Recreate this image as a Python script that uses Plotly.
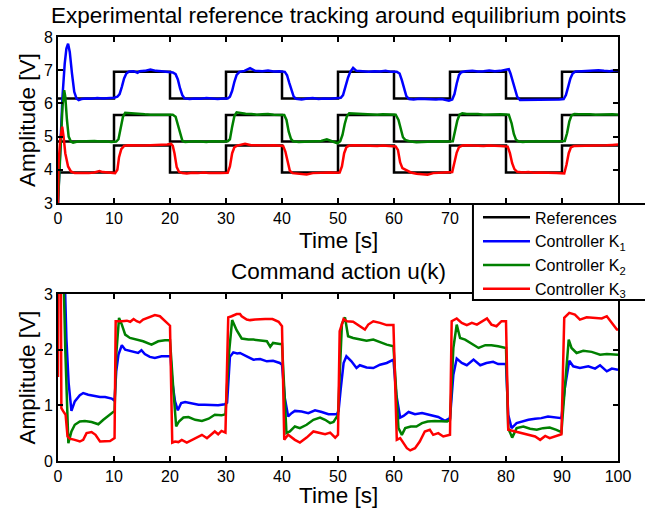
import plotly.graph_objects as go

# ---------------- reference set-points (step signals) ----------------
ref_t = [0, 10, 20, 30, 40, 50, 60, 70, 80, 90, 100]
ref_k1 = [6.15, 6.95, 6.15, 6.95, 6.15, 6.95, 6.15, 6.95, 6.15, 6.95, 6.95]
ref_k2 = [4.85, 5.65, 4.85, 5.65, 4.85, 5.65, 4.85, 5.65, 4.85, 5.65, 5.65]
ref_k3 = [3.92, 4.73, 3.92, 4.73, 3.92, 4.73, 3.92, 4.73, 3.92, 4.73, 4.73]

# ---------------- measured outputs (top panel) ----------------
y1_t = [0, 0.4, 0.8, 1.2, 1.5, 1.8, 2.1, 2.5, 2.9, 3.3, 3.7, 4.2, 5, 6, 7, 8, 9, 10,
        10.6, 11.0, 11.4, 11.8, 12.2, 12.7, 13.5, 14.2, 14.6, 15.5, 16.5, 17.5, 18.5, 19.5,
        20.5, 21.0, 21.4, 21.8, 22.2, 22.6, 23.5, 24.5, 25.5, 26.5, 27.5, 28.5, 29.5,
        30.3, 30.7, 31.1, 31.5, 31.9, 32.4, 33.3, 34.3, 35.2, 36.5, 37.5, 38.5, 39.5,
        40.5, 40.9, 41.3, 41.7, 42.1, 42.5, 43.5, 44.5, 45.5, 46.5, 47.5, 48.5, 49.5,
        50.5, 50.9, 51.3, 51.8, 52.2, 52.7, 53.3, 54.5, 55.5, 56.5, 57.5, 58.5, 59.5,
        60.5, 61.0, 61.4, 61.8, 62.2, 62.7, 63.5, 64.5, 65.5, 66.5, 67.5, 68.5, 69.2, 69.8,
        70.4, 70.8, 71.2, 71.6, 72.0, 72.8, 74, 75, 76, 77, 78, 79, 80.2, 80.5,
        80.8, 81.2, 81.6, 82.0, 82.5, 83.5, 84.5, 85.5, 86.5, 87.5, 88.5, 89.5,
        90.3, 90.7, 91.1, 91.5, 91.9, 92.4, 93.5, 94.5, 95.5, 96.5, 97.5, 98.5, 99.5, 100]
y1_v = [3.0, 4.8, 6.2, 7.2, 7.65, 7.8, 7.55, 6.9, 6.35, 6.15, 6.1, 6.13, 6.15, 6.14, 6.16, 6.15, 6.15, 6.17,
        6.2, 6.28, 6.5, 6.75, 6.9, 6.96, 6.97, 6.92, 6.97, 6.98, 7.02, 6.98, 6.97, 6.95,
        6.93, 6.88, 6.72, 6.45, 6.25, 6.15, 6.13, 6.15, 6.14, 6.16, 6.14, 6.13, 6.15,
        6.15, 6.2, 6.38, 6.65, 6.86, 6.95, 6.98, 7.06, 6.98, 6.97, 6.99, 6.96, 6.97,
        6.95, 6.85, 6.62, 6.38, 6.2, 6.14, 6.12, 6.15, 6.16, 6.13, 6.15, 6.14, 6.15,
        6.17, 6.25, 6.5, 6.78, 6.95, 7.07, 6.98, 6.97, 6.95, 6.97, 6.96, 6.98, 6.95,
        6.95, 6.9, 6.7, 6.45, 6.22, 6.13, 6.12, 6.14, 6.13, 6.14, 6.12, 6.13, 6.11, 6.08,
        6.12, 6.28, 6.6, 6.85, 6.94, 6.97, 6.98, 6.96, 6.97, 6.99, 6.97, 6.98, 7.02, 7.03,
        6.9, 6.65, 6.4, 6.2, 6.1, 6.1, 6.12, 6.11, 6.12, 6.11, 6.12, 6.12,
        6.13, 6.25, 6.5, 6.75, 6.9, 6.96, 6.97, 6.98, 6.97, 7.0, 6.98, 6.97, 7.0, 7.0]

y2_t = [0, 0.4, 0.8, 1.1, 1.3, 1.6, 1.9, 2.3, 2.7, 3.5, 4.5, 5.5, 6.5, 7.5, 8.5, 9.5,
        10.4, 10.8, 11.2, 11.6, 12.0, 12.5, 13.5, 14.5, 15.5, 16.5, 17.5, 18.5, 19.5,
        20.5, 21.0, 21.4, 21.8, 22.2, 22.7, 23.5, 24.5, 25.5, 26.5, 27.5, 28.5, 29.5,
        30.3, 30.7, 31.1, 31.5, 31.9, 32.5, 33.5, 34.5, 35.5, 36.5, 37.5, 38.5, 39.5,
        40.4, 40.8, 41.2, 41.6, 42.0, 43, 44, 45, 46, 47, 48, 48.7, 49.5, 49.9,
        50.4, 50.8, 51.2, 51.6, 52.0, 53, 54, 55, 56, 57, 58, 59,
        60.3, 60.8, 61.2, 61.6, 62.0, 63, 64, 65, 66, 67, 68, 69,
        70.5, 70.9, 71.3, 71.7, 72.2, 73, 74, 75, 76, 77, 78, 79,
        80.5, 81.0, 81.4, 81.8, 82.3, 83, 84, 85, 86, 87, 88, 89,
        90.5, 90.9, 91.3, 91.7, 92.2, 93, 94, 95, 96, 97, 98, 99, 100]
y2_v = [3.0, 4.6, 5.9, 6.4, 6.2, 5.5, 5.0, 4.85, 4.82, 4.85, 4.86, 4.85, 4.87, 4.85, 4.86, 4.84,
        4.85, 4.92, 5.3, 5.6, 5.72, 5.71, 5.69, 5.68, 5.67, 5.66, 5.67, 5.66, 5.66,
        5.66, 5.6, 5.35, 5.05, 4.88, 4.84, 4.85, 4.86, 4.85, 4.84, 4.86, 4.85, 4.85,
        4.86, 4.92, 5.3, 5.62, 5.73, 5.71, 5.69, 5.68, 5.66, 5.67, 5.68, 5.66, 5.66,
        5.65, 5.5, 5.15, 4.93, 4.86, 4.84, 4.85, 4.86, 4.85, 4.87, 4.92, 4.87, 4.82, 4.8,
        4.86, 5.05, 5.38, 5.62, 5.7, 5.69, 5.68, 5.66, 5.67, 5.66, 5.67, 5.66,
        5.66, 5.5, 5.2, 4.98, 4.9, 4.85, 4.83, 4.83, 4.84, 4.85, 4.86, 4.85,
        4.86, 5.14, 5.48, 5.66, 5.7, 5.68, 5.69, 5.68, 5.66, 5.67, 5.66, 5.67,
        5.66, 5.4, 5.08, 4.9, 4.85, 4.84, 4.85, 4.85, 4.86, 4.85, 4.85, 4.86,
        4.87, 5.1, 5.45, 5.64, 5.68, 5.67, 5.68, 5.67, 5.66, 5.67, 5.66, 5.67, 5.66]

y3_t = [0, 0.1, 0.4, 0.75, 1.0, 1.3, 1.8, 2.3, 3, 4, 4.8, 5.5, 6.5, 7.4, 8, 9,
        10.2, 10.6, 10.9, 11.3, 11.8, 12.5, 13.5, 14.5, 15.5, 16.5, 17.5, 18.5, 19.5,
        20.2, 20.5, 20.8, 21.2, 21.6, 22.2, 23, 24, 25, 26, 27, 28, 29,
        30.3, 30.7, 31.1, 31.5, 32, 33.4, 34.5, 35.5, 36.5, 37.5, 38.5, 39.5,
        40.2, 40.6, 41.0, 41.4, 41.9, 43, 44.4, 45.5, 46.5, 47.5, 48.5, 49.5,
        50.3, 50.7, 51.1, 51.5, 52, 53, 54, 55, 56, 57, 58, 59,
        60.3, 60.7, 61.1, 61.5, 62, 63, 64, 65, 66, 67, 68, 69,
        70.4, 70.8, 71.2, 71.6, 72.2, 73, 74, 75, 76, 77, 78, 79,
        80.3, 80.7, 81.1, 81.5, 82, 83, 84, 85, 86, 87, 88, 89,
        90.4, 90.8, 91.2, 91.6, 92.2, 93, 94, 95, 96, 97, 98, 99, 100]
y3_v = [3.0, 4.2, 4.9, 5.3, 5.0, 4.5, 4.1, 3.95, 3.9, 3.9, 3.88, 3.9, 3.92, 3.96, 3.93, 3.91,
        3.9, 4.0, 4.38, 4.62, 4.72, 4.74, 4.73, 4.74, 4.73, 4.74, 4.74, 4.75, 4.76,
        4.78, 4.72, 4.5, 4.08, 3.94, 3.9, 3.89, 3.91, 3.9, 3.92, 3.9, 3.91, 3.9,
        3.91, 4.1, 4.5, 4.68, 4.73, 4.78, 4.74, 4.73, 4.74, 4.73, 4.74, 4.73,
        4.72, 4.55, 4.25, 3.97, 3.9, 3.88, 3.86, 3.9, 3.91, 3.9, 3.92, 3.91,
        3.92, 4.1, 4.5, 4.68, 4.73, 4.74, 4.73, 4.74, 4.73, 4.72, 4.73, 4.72,
        4.7, 4.6, 4.22, 4.05, 4.0, 3.92, 3.88, 3.86, 3.85, 3.9, 3.92, 3.92,
        3.93, 4.2, 4.52, 4.68, 4.73, 4.74, 4.73, 4.74, 4.72, 4.73, 4.73, 4.72,
        4.7, 4.5, 4.2, 4.02, 3.94, 3.92, 3.93, 3.91, 3.92, 3.92, 3.91, 3.9,
        3.89, 4.15, 4.5, 4.68, 4.72, 4.72, 4.73, 4.72, 4.73, 4.74, 4.74, 4.75, 4.76]

# ---------------- command action u(k) (bottom panel) ----------------
u1_t = [0, 1.2, 1.5, 1.9, 2.4, 3.0, 3.9, 4.5, 5.4, 6.6, 7.5, 8.4, 9.6, 10.1,
        10.4, 10.8, 11.4, 12.0, 13.1, 14.3, 14.9, 15.5, 16.4, 17.3, 18.5, 19.7, 20.1,
        20.4, 20.9, 21.4, 22.0, 22.7, 23.9, 25.1, 26.2, 27.4, 28.6, 29.8, 30.2,
        30.7, 31.3, 32.0, 32.5, 33.7, 34.9, 36.1, 37.3, 38.4, 39.6, 40.0,
        40.5, 41.1, 41.7, 42.3, 43.5, 44.7, 45.9, 47.1, 48.3, 49.8, 50.1,
        50.5, 51.0, 51.5, 52.4, 53.3, 53.9, 55.1, 56.3, 57.5, 58.7, 59.9,
        60.4, 61.1, 61.7, 62.6, 63.75, 65.0, 66.4, 67.9, 69.1, 70.0,
        70.6, 71.2, 72.1, 73.0, 74.2, 75.4, 76.5, 77.7, 78.6, 80.0,
        80.4, 81.0, 81.9, 82.8, 84.0, 85.2, 86.3, 87.5, 88.7, 89.9,
        90.5, 91.3, 92.0, 93.2, 94.7, 95.9, 96.8, 98.0, 98.9, 100]
u1_v = [3.5, 3.3, 2.2, 1.4, 0.9, 1.07, 1.18, 1.22, 1.19, 1.16, 1.15, 1.15, 1.12, 1.08,
        1.61, 1.91, 2.08, 2.0, 1.97, 1.94, 1.99, 1.92, 1.87, 1.85, 1.88, 1.89, 1.88,
        1.43, 1.07, 0.91, 1.04, 1.06, 1.03, 1.01, 1.01, 1.01, 1.0, 1.02, 1.05,
        1.87, 1.95, 1.93, 1.94, 1.88, 1.82, 1.83, 1.79, 1.8, 1.76, 1.73,
        1.13, 0.8, 0.86, 0.9, 0.89, 0.86, 0.91, 0.88, 0.84, 0.84, 0.9,
        1.31, 1.76, 1.88, 1.79, 1.67, 1.72, 1.68, 1.67, 1.73, 1.76, 1.82,
        1.2, 0.78, 0.81, 0.88, 0.84, 0.86, 0.83, 0.79, 0.72, 0.77,
        1.55, 1.84, 1.76, 1.72, 1.82, 1.72, 1.76, 1.78, 1.74, 1.74,
        0.83, 0.59, 0.68, 0.71, 0.74, 0.76, 0.77, 0.8, 0.78, 0.77,
        1.31, 1.8, 1.7, 1.67, 1.7, 1.66, 1.72, 1.61, 1.66, 1.64]

u2_t = [0, 1.0, 1.3, 1.6, 1.85, 2.4, 3.0, 3.9, 4.8, 6.0, 7.2, 8.1, 9.0, 9.9, 10.1,
        10.4, 10.9, 11.4, 12.0, 12.85, 14.05, 15.2, 16.7, 17.9, 19.1, 20.0,
        20.6, 21.1, 21.6, 22.4, 23.3, 24.5, 25.7, 26.9, 28.0, 29.2, 29.9,
        30.5, 31.1, 31.5, 31.9, 32.8, 34.0, 34.9, 36.1, 37.3, 37.9, 38.4, 39.6, 40.0,
        40.8, 41.4, 42.3, 43.2, 44.4, 45.6, 46.8, 47.7, 48.6, 49.2, 50.0,
        50.7, 51.25, 51.8, 52.7, 53.9, 55.1, 56.3, 57.5, 58.7, 59.9,
        60.8, 61.4, 62.0, 63.0, 64.0, 65.0, 66.0, 67.3, 68.5, 69.5, 70.0,
        70.6, 71.2, 71.8, 72.7, 73.9, 75.1, 76.3, 77.4, 78.6, 80.0,
        80.4, 81.1, 81.9, 83.1, 84.3, 85.5, 86.6, 87.8, 89.0, 89.9,
        90.5, 91.2, 91.7, 92.6, 93.8, 95.3, 96.8, 98.0, 100]
u2_v = [3.5, 3.3, 2.0, 0.9, 0.32, 0.53, 0.65, 0.71, 0.72, 0.7, 0.66, 0.74, 0.81, 0.89, 0.9,
        1.91, 2.57, 2.45, 2.27, 2.21, 2.18, 2.15, 2.09, 2.15, 2.17, 2.17,
        1.28, 0.62, 0.71, 0.78, 0.79, 0.74, 0.72, 0.76, 0.83, 0.82, 0.84,
        1.9, 2.53, 2.45, 2.35, 2.2, 2.18, 2.18, 2.17, 2.15, 2.05, 2.12, 2.1, 2.1,
        0.5, 0.53, 0.62, 0.59, 0.65, 0.74, 0.78, 0.74, 0.68, 0.7, 0.83,
        2.46, 2.58, 2.24, 2.21, 2.18, 2.16, 2.18, 2.13, 2.09, 2.06,
        0.59, 0.47, 0.59, 0.62, 0.62, 0.68, 0.71, 0.72, 0.71, 0.71, 0.74,
        2.03, 2.45, 2.21, 2.18, 2.1, 2.03, 2.08, 2.08, 2.06, 2.03,
        0.59, 0.42, 0.59, 0.62, 0.58, 0.56, 0.59, 0.6, 0.56, 0.52,
        1.31, 2.18, 2.03, 1.94, 1.98, 1.96, 1.91, 1.92, 1.91]

u3_t = [0, 0.05, 0.5, 0.6, 0.95, 1.36, 1.7, 2.1, 3.0, 3.9, 4.5, 5.1, 6.0, 6.7, 7.5, 8.4, 9.3, 10.1,
        10.3, 11.4, 12.3, 12.9, 13.5, 14.05, 14.6, 15.2, 16.1, 17.3, 18.2, 19.1, 20.0,
        20.4, 20.9, 21.5, 22.1, 23.0, 23.9, 24.8, 25.7, 26.6, 27.4, 28.0, 28.6, 29.2, 29.9,
        30.4, 31.0, 31.9, 32.5, 32.8, 33.7, 34.3, 35.2, 36.0, 37.0, 38.3, 39.4, 40.0,
        40.4, 41.1, 42.3, 43.2, 44.4, 45.6, 46.8, 47.7, 48.6, 49.5, 50.0,
        50.3, 51.0, 51.6, 52.7, 53.9, 54.8, 55.4, 56.3, 57.5, 58.7, 59.9,
        60.5, 61.1, 61.7, 62.3, 62.9, 63.75, 64.6, 65.5, 66.4, 67.0, 67.9, 68.8, 70.0,
        70.3, 71.2, 72.1, 73.0, 73.9, 74.8, 75.7, 76.6, 77.4, 78.3, 79.2, 80.0,
        80.4, 81.6, 82.8, 84.0, 85.2, 86.1, 87.0, 87.8, 89.0, 89.9,
        90.4, 91.3, 92.3, 93.2, 94.4, 95.9, 97.1, 98.0, 98.9, 99.8, 100]
u3_v = [1.51, 3.5, 3.5, 0.95, 0.89, 0.83, 0.44, 0.4, 0.38, 0.35, 0.38, 0.5, 0.52, 0.47, 0.35, 0.35, 0.36, 0.41,
        2.51, 2.51, 2.52, 2.5, 2.55, 2.51, 2.49, 2.54, 2.58, 2.62, 2.6, 2.51, 2.43,
        0.33, 0.35, 0.34, 0.38, 0.33, 0.38, 0.42, 0.47, 0.41, 0.48, 0.53, 0.48, 0.54, 0.51,
        2.58, 2.6, 2.64, 2.64, 2.6, 2.54, 2.53, 2.54, 2.55, 2.55, 2.55, 2.5, 2.42,
        0.38, 0.47, 0.38, 0.33, 0.42, 0.53, 0.5, 0.48, 0.51, 0.42, 0.47,
        2.33, 2.55, 2.51, 2.5, 2.42, 2.36, 2.45, 2.51, 2.48, 2.44, 2.44,
        0.38, 0.41, 0.32, 0.23, 0.19, 0.23, 0.35, 0.53, 0.56, 0.47, 0.5, 0.44, 0.47,
        2.51, 2.56, 2.48, 2.44, 2.48, 2.45, 2.5, 2.56, 2.45, 2.42, 2.51, 2.51,
        0.56, 0.53, 0.5, 0.47, 0.44, 0.38, 0.45, 0.41, 0.45, 0.48,
        2.57, 2.66, 2.63, 2.54, 2.58, 2.57, 2.56, 2.6, 2.48, 2.36, 2.36]

names = ["References", "Controller K<sub>1</sub>", "Controller K<sub>2</sub>", "Controller K<sub>3</sub>"]
colors = ["#000000", "#0000ff", "#008000", "#ff0000"]
x_ticks = [0, 10, 20, 30, 40, 50, 60, 70, 80, 90, 100]

FONT = "Liberation Sans, Arial, Helvetica, sans-serif"
LW = 2.5

fig = go.Figure()

# references
for i, rv in enumerate([ref_k1, ref_k2, ref_k3]):
    fig.add_trace(go.Scatter(x=ref_t, y=rv, mode="lines", line=dict(color=colors[0], width=LW, shape="hv"),
                             name=names[0], legendgroup="ref", showlegend=(i == 0),
                             xaxis="x", yaxis="y"))
# outputs
for (tt, vv), c, n in zip([(y1_t, y1_v), (y2_t, y2_v), (y3_t, y3_v)], colors[1:], names[1:]):
    fig.add_trace(go.Scatter(x=tt, y=vv, mode="lines", line=dict(color=c, width=LW),
                             name=n, legendgroup=n, showlegend=True, xaxis="x", yaxis="y"))
# commands
for (tt, vv), c, n in zip([(u1_t, u1_v), (u2_t, u2_v), (u3_t, u3_v)], colors[1:], names[1:]):
    fig.add_trace(go.Scatter(x=tt, y=vv, mode="lines", line=dict(color=c, width=LW),
                             name=n, legendgroup=n, showlegend=False, xaxis="x2", yaxis="y2"))

axis_common = dict(showline=True, linecolor="black", linewidth=2, mirror="allticks",
                   ticks="inside", ticklen=5, tickwidth=1.5, tickcolor="black",
                   showgrid=False, zeroline=False, tickfont=dict(family=FONT, size=16, color="black"))

fig.update_layout(
    width=645, height=510,
    margin=dict(l=58, r=27, t=37, b=49),
    paper_bgcolor="white", plot_bgcolor="white",
    font=dict(family=FONT, size=16, color="black"),
    xaxis=dict(domain=[0, 1], range=[0, 100], tickvals=x_ticks, anchor="y", **axis_common),
    yaxis=dict(domain=[0.6085, 1], range=[3, 8], tickvals=[3, 4, 5, 6, 7, 8], anchor="x", **axis_common),
    xaxis2=dict(domain=[0, 1], range=[0, 100], tickvals=x_ticks, anchor="y2", **axis_common),
    yaxis2=dict(domain=[0, 0.394], range=[0, 3], tickvals=[0, 1, 2, 3], anchor="x2", **axis_common),
    showlegend=True,
    legend=dict(x=0.750, y=0.6145, xanchor="left", yanchor="top", bgcolor="rgba(0,0,0,0)",
                borderwidth=0, font=dict(family=FONT, size=16, color="black"),
                itemwidth=47, tracegroupgap=0),
)

# legend frame (white box with black border running off the right edge, drawn over the plots)
fig.add_shape(type="rect", xref="paper", yref="paper", x0=0.741, x1=1.25, y0=0.3797, y1=0.606,
              fillcolor="white", line=dict(color="black", width=2), layer="above")

ann = [
    dict(text="Experimental reference tracking around equilibrium points", x=0.5, y=1.05),
    dict(text="Time [s]", x=0.5, y=0.519),
    dict(text="Command action u(k)", x=0.5, y=0.448),
    dict(text="Time [s]", x=0.5, y=-0.082),
    dict(text="Amplitude [V]", x=-0.0554, y=0.804, textangle=-90),
    dict(text="Amplitude [V]", x=-0.0554, y=0.197, textangle=-90),
]
for a in ann:
    fig.add_annotation(xref="paper", yref="paper", xanchor="center", yanchor="middle", showarrow=False,
                       font=dict(family=FONT, size=22.5, color="black"), **a)

fig.write_html("out.html")
